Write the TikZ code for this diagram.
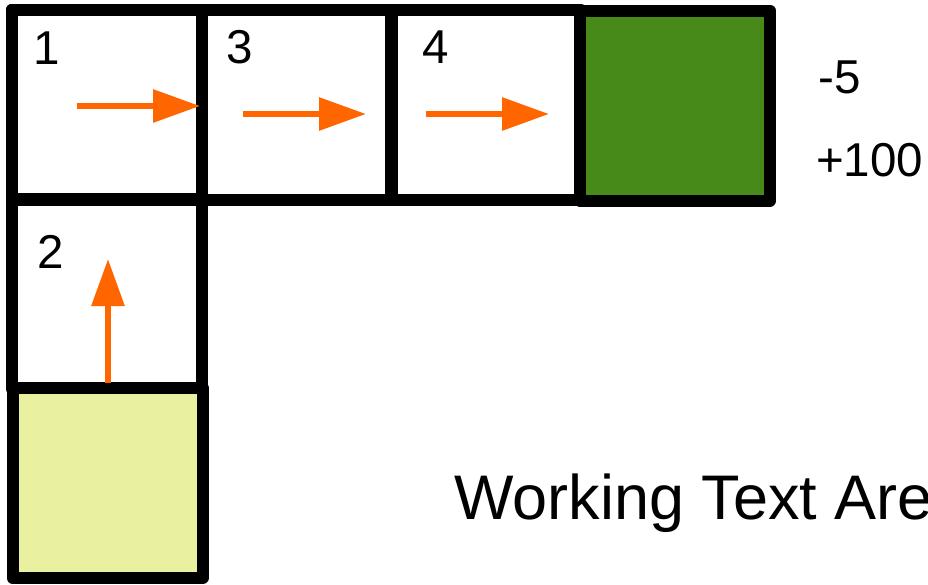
\documentclass[tikz,border=0pt]{standalone}
\usepackage{fontspec}
\setmainfont{Liberation Sans}
\usetikzlibrary{arrows.meta}
\definecolor{goalgreen}{HTML}{478A1A}
\definecolor{startyellow}{HTML}{E9F1A0}
\definecolor{arroworange}{HTML}{FF6600}
\begin{document}
\begin{tikzpicture}[x=1pt,y=-1pt,
  cell/.style={draw=black,line width=12pt,line join=round,rectangle,minimum width=190pt,minimum height=190pt,inner sep=0pt,outer sep=0pt},
  num/.style={anchor=base west,inner sep=0pt,font=\fontsize{47.5pt}{50pt}\selectfont},
  move/.style={draw=arroworange,line width=6pt,-{Triangle[length=47pt,width=32pt]},arroworange}]
\useasboundingbox (0,0) rectangle (928,584);
% cells
\node[cell] (c1) at (106.5,105) {};
\node[cell] (c3) at (297,105) {};
\node[cell] (c4) at (485.5,105) {};
\node[cell,fill=goalgreen] (goal) at (675,105.5) {};
\node[cell] (c2) at (107,294) {};
\node[cell,fill=startyellow] (start) at (107.5,483) {};
% redraw cell 1 border on top for shared edges
\node[cell] at (106.5,105) {};
% numbers
\node[num] (n1) at (33,64) {1};
\node[num] (n3) at (226,63) {3};
\node[num] (n4) at (422,63) {4};
\node[num] (n2) at (37,268) {2};
% rewards
\node[num] (r1) at (818,93) {-5};
\node[num] (r2) at (816,176) {+100};
\node[anchor=base west,inner sep=0pt,font=\fontsize{63pt}{66pt}\selectfont] (wt) at (454,519) {Working Text Area};
% arrows
\coordinate (a1s) at (77,106);
\coordinate (a1e) at (200,106);
\coordinate (a3s) at (243,114);
\coordinate (a3e) at (366,114);
\coordinate (a4s) at (426,114);
\coordinate (a4e) at (549,114);
\coordinate (a2s) at (108,383);
\coordinate (a2e) at (108,259);
\draw[move] (a1s) -- (a1e);
\draw[move] (a3s) -- (a3e);
\draw[move] (a4s) -- (a4e);
\draw[move] (a2s) -- (a2e);
\end{tikzpicture}
\end{document}
